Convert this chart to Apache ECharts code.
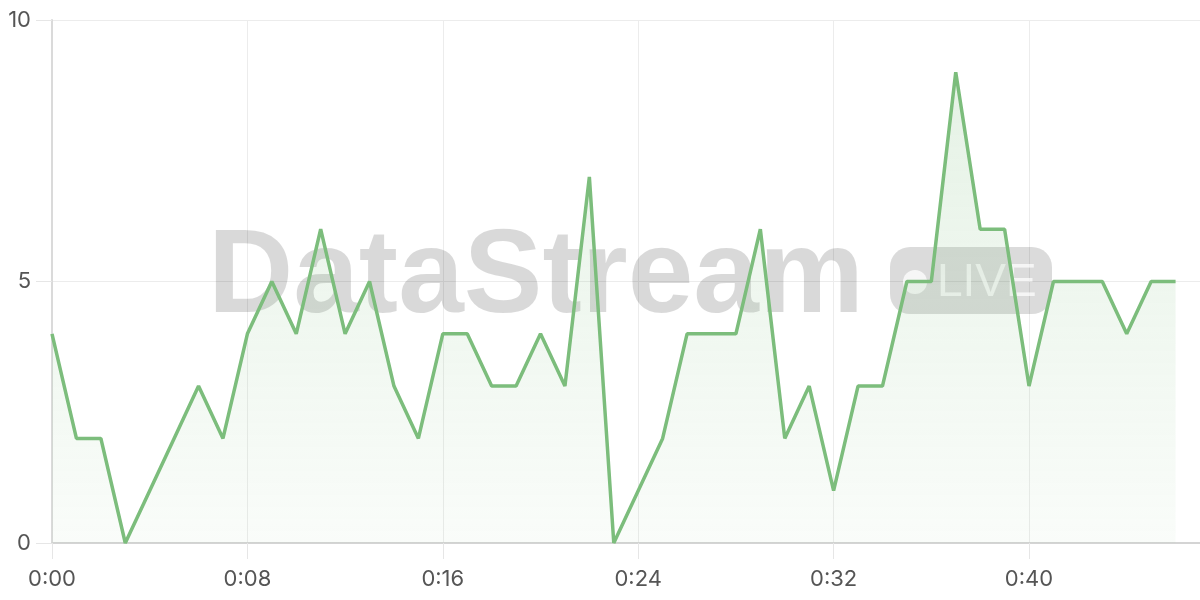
<!DOCTYPE html>
<html>
<head>
<meta charset="utf-8">
<script src="https://cdn.jsdelivr.net/npm/echarts@6/dist/echarts.min.js"></script>
<style>html,body{margin:0;padding:0;background:#fff}#c{width:1200px;height:600px}</style>
</head>
<body>
<div id="c"></div>
<script>
var minutes = [0,1,2,3,4,5,6,7,8,9,10,11,12,13,14,15,16,17,18,19,20,21,22,23,24,25,26,27,28,29,30,31,32,33,34,35,36,37,38,39,40,41,42,43,44,45,46];
var values  = [4,2,2,0,1,2,3,2,4,5,4,6,4,5,3,2,4,4,3,3,4,3,7,0,1,2,4,4,4,6,2,3,1,3,3,5,5,9,6,6,3,5,5,5,4,5,5];
var yTicks = [0,5,10];
var watermarkText = 'DataStream';
var badgeText = 'LIVE';

var chart = echarts.init(document.getElementById('c'));
var data = minutes.map(function(m,i){return [m, values[i]];});
var labelFont = 'Inter, "Noto Sans", sans-serif';
chart.setOption({
  animation: false,
  grid: {left: 52, right: 0, top: 20, bottom: 57},
  xAxis: {
    type: 'value', min: 0, max: 47, interval: 8,
    axisLine: {show: true, lineStyle: {color: '#d4d4d4', width: 2}},
    axisTick: {show: true, length: 16, lineStyle: {color: '#e6e6e6'}},
    splitLine: {show: true, lineStyle: {color: '#ececec', width: 1}},
    axisLabel: {
      showMaxLabel: false, margin: 25, color: '#555', fontSize: 22, fontFamily: labelFont,
      formatter: function(v){ return '0:' + (v < 10 ? '0' + v : '' + v); }
    }
  },
  yAxis: {
    type: 'value', min: yTicks[0], max: yTicks[yTicks.length-1], interval: 5,
    axisLine: {show: true, lineStyle: {color: '#dadada', width: 2}},
    axisTick: {show: true, length: 16, lineStyle: {color: '#e6e6e6'}},
    splitLine: {show: true, lineStyle: {color: '#ececec', width: 1}},
    axisLabel: {margin: 21, color: '#555', fontSize: 22, fontFamily: labelFont}
  },
  graphic: [
    {type: 'text', z: 1, style: {text: watermarkText, x: 208, y: 279, font: 'bold 118px "Liberation Sans", Arial, sans-serif', fill: 'rgba(0,0,0,0.15)', verticalAlign: 'middle', align: 'left'}},
    {type: 'rect', z: 1, shape: {x: 890, y: 247, width: 162, height: 67, r: 20}, style: {fill: 'rgba(0,0,0,0.14)'}},
    {type: 'circle', z: 1, shape: {cx: 915, cy: 282, r: 12}, style: {fill: 'rgba(255,255,255,0.75)'}},
    {type: 'text', z: 1, style: {text: badgeText, x: 937, y: 283, font: '46px "Liberation Sans", Arial, sans-serif', fill: 'rgba(255,255,255,0.7)', verticalAlign: 'middle', align: 'left'}}
  ],
  series: [{
    type: 'line', data: data, symbol: 'none', z: 3,
    lineStyle: {color: '#7cbd7c', width: 3.5},
    areaStyle: {
      color: new echarts.graphic.LinearGradient(0,0,0,1,[
        {offset: 0, color: 'rgba(124,189,124,0.28)'},
        {offset: 1, color: 'rgba(124,189,124,0.06)'}
      ])
    }
  }]
});
</script>
</body>
</html>
